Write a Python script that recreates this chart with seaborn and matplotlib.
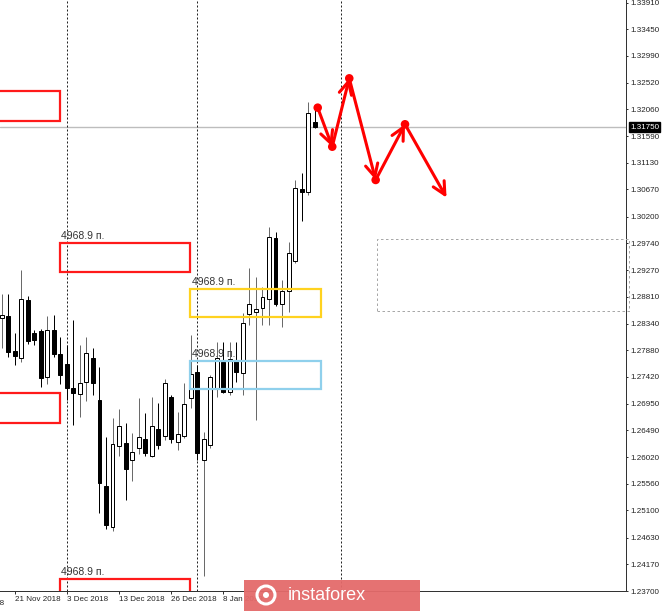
"""GBPUSD daily chart with 4968.9-point zones and forecast arrows (MT4 look)."""
import matplotlib
matplotlib.use("Agg")
import matplotlib.pyplot as plt
import matplotlib.patches as mpatches
import matplotlib.transforms as mtransforms
import pandas as pd
import seaborn as sns

# --- candles (daily, index 0 = first visible bar) ---
candle_open = [1.28441, 1.28475, 1.27868, 1.27747, 1.28753, 1.28180, 1.28215, 1.27417,
               1.28233, 1.27816, 1.27643, 1.27227, 1.27123, 1.27331, 1.27747, 1.27018,
               1.25527, 1.24816, 1.26221, 1.26273, 1.25978, 1.26186, 1.26342, 1.26047,
               1.26515, 1.26394, 1.27070, 1.26290, 1.26394, 1.27053, 1.27504, 1.25978,
               1.26238, 1.27209, 1.27678, 1.27157, 1.27712, 1.27487, 1.28510, 1.28545,
               1.28614, 1.28770, 1.29828, 1.28683, 1.28909, 1.29429, 1.30678, 1.30626,
               1.31840]
candle_high = [1.28857, 1.28857, 1.28180, 1.29273, 1.28822, 1.28233, 1.28250, 1.28475,
               1.28493, 1.28111, 1.27972, 1.28406, 1.27972, 1.28111, 1.27920, 1.27591,
               1.26377, 1.26706, 1.26862, 1.26620, 1.26446, 1.27053, 1.26793, 1.27070,
               1.26966, 1.27383, 1.27105, 1.26810, 1.27313, 1.28146, 1.27625, 1.26463,
               1.27452, 1.28024, 1.28024, 1.28024, 1.28024, 1.28527, 1.29308, 1.29152,
               1.28978, 1.30019, 1.29932, 1.29100, 1.29759, 1.30834, 1.30956, 1.32187,
               1.32118]
candle_low = [1.27920, 1.27764, 1.27625, 1.27678, 1.27990, 1.27972, 1.27244, 1.27296,
              1.27764, 1.27296, 1.27018, 1.26585, 1.26724, 1.27001, 1.27105, 1.25059,
              1.24781, 1.24746, 1.26047, 1.25284, 1.25614, 1.26082, 1.26047, 1.26030,
              1.26169, 1.26325, 1.26273, 1.26151, 1.26359, 1.26880, 1.25978, 1.23966,
              1.26186, 1.27070, 1.27140, 1.27105, 1.27331, 1.27105, 1.28319, 1.26672,
              1.28319, 1.28319, 1.28649, 1.28285, 1.28545, 1.29395, 1.30123, 1.30574,
              1.31740]
candle_close = [1.28493, 1.27851, 1.27782, 1.28770, 1.28042, 1.28059, 1.27400, 1.28233,
                1.27816, 1.27452, 1.27227, 1.27140, 1.27313, 1.27834, 1.27313, 1.25579,
                1.24850, 1.26255, 1.26568, 1.25822, 1.26117, 1.26377, 1.26099, 1.26568,
                1.26238, 1.27313, 1.26342, 1.26429, 1.26949, 1.27469, 1.26099, 1.26342,
                1.27417, 1.27747, 1.27157, 1.27729, 1.27504, 1.28354, 1.28683, 1.28597,
                1.28805, 1.29846, 1.28683, 1.28909, 1.29568, 1.30695, 1.30626, 1.31996,
                1.31750]

current_price = 1.31750
price_ticks = [1.33910, 1.33450, 1.32990, 1.32520, 1.32060, 1.31590, 1.31130, 1.30670,
               1.30200, 1.29740, 1.29270, 1.28810, 1.28340, 1.27880, 1.27420, 1.26950,
               1.26490, 1.26020, 1.25560, 1.25100, 1.24630, 1.24170, 1.23700]
date_pos = [-6, 2, 10, 18, 26, 34]
date_labels = ["9 Nov 2018", "21 Nov 2018", "3 Dec 2018", "13 Dec 2018", "26 Dec 2018", "8 Jan 2019"]
month_separators = [10, 30, 52]

# zones: (x0, x1, price_low, price_high, colour, label)
zone_x0 = [-6, 8.95, -6, 8.95, 28.95, 28.95]
zone_x1 = [8.95, 28.95, 8.95, 28.95, 48.95, 48.95]
zone_lo = [1.31857, 1.29238, 1.26620, 1.23000, 1.28458, 1.27209]
zone_hi = [1.32378, 1.29741, 1.27140, 1.23914, 1.28944, 1.27695]
zone_color = ["#ff1a1a", "#ff1a1a", "#ff1a1a", "#ff1a1a", "#ffd21f", "#8fd0ec"]
zone_label = [None, "4968.9 п.", None, "4968.9 п.", "4968.9 п.", "4968.9 п."]

target_box = (57.56, 96.2, 1.28562, 1.29811)

# forecast path (bar index, price)
forecast_x = [48.47, 50.70, 53.31, 57.36, 61.86, 68.23]
forecast_y = [1.32088, 1.31411, 1.32597, 1.30834, 1.31800, 1.30527]

PX = 0.72  # one pixel in points

sns.set_theme(style="white")
plt.rcParams["font.family"] = ["Liberation Sans", "DejaVu Sans"]

fig = plt.figure(figsize=(6.65, 6.11), dpi=100)
ax = fig.add_axes([0, 19.7 / 611, 625.7 / 665, 591.3 / 611])
ax.set_facecolor("white")

df = pd.DataFrame({"o": candle_open, "h": candle_high, "l": candle_low, "c": candle_close})
df["i"] = range(len(df))
bull = df["c"] >= df["o"]

# wicks
ax.vlines(df.loc[bull, "i"], df.loc[bull, "l"], df.loc[bull, "h"], color="#6a6a6a", lw=PX, zorder=2)
ax.vlines(df.loc[~bull, "i"], df.loc[~bull, "l"], df.loc[~bull, "h"], color="black", lw=PX, zorder=2)
# bodies
body_lo = df[["o", "c"]].min(axis=1)
body_h = (df["c"] - df["o"]).abs().clip(lower=0.00012)
ax.bar(df["i"], body_h, bottom=body_lo, width=0.6,
       color=["white" if b else "black" for b in bull], edgecolor="black", lw=PX, zorder=3)

# current price line
ax.axhline(current_price, color="#bdbdbd", lw=1.0, zorder=1)

# month separators
for xs in month_separators:
    ax.axvline(xs, color="#222222", lw=PX, ls=(0, (2, 2)), zorder=1)

# zones
for x0, x1, lo, hi, col, lab in zip(zone_x0, zone_x1, zone_lo, zone_hi, zone_color, zone_label):
    ax.add_patch(mpatches.Rectangle((x0, lo), x1 - x0, hi - lo, fill=False,
                                    edgecolor=col, lw=1.6, zorder=4))
    if lab:
        ax.text(x0 + 0.2, hi + 0.0007, lab, fontsize=7.5, color="#333333",
                ha="left", va="baseline", zorder=5)

tx0, tx1, tlo, thi = target_box
ax.add_patch(mpatches.Rectangle((tx0, tlo), tx1 - tx0, thi - tlo, fill=False,
                                edgecolor="#a8a8a8", lw=PX, ls=(0, (2.5, 2.5)),
                                clip_on=False, zorder=4))

# forecast arrows
for k in range(len(forecast_x) - 1):
    ax.annotate("", xy=(forecast_x[k + 1], forecast_y[k + 1]),
                xytext=(forecast_x[k], forecast_y[k]),
                arrowprops=dict(arrowstyle="->,head_length=0.9,head_width=0.45",
                                color="#ff0000", lw=2.2, shrinkA=0, shrinkB=0,
                                mutation_scale=10),
                zorder=6)
sns.scatterplot(x=forecast_x[:-1], y=forecast_y[:-1], color="#ff0000", s=38,
                edgecolor="none", zorder=7, ax=ax, legend=False)

# axes
ax.set_xlim(-0.26, 95.71)
ax.set_ylim(1.23698, 1.33956)
for side in ["top", "left"]:
    ax.spines[side].set_visible(False)
for side in ["right", "bottom"]:
    ax.spines[side].set_color("#333333")
    ax.spines[side].set_linewidth(PX)

ax.yaxis.tick_right()
ax.set_yticks(price_ticks)
ax.set_yticklabels([f"{p:.5f}" for p in price_ticks])
ax.tick_params(axis="y", which="major", right=True, left=False, length=2 * PX, width=PX,
               pad=2.5 * PX, labelsize=5.8, colors="#333333", labelcolor="#222222")

ax.set_xticks(date_pos[1:])
ax.set_xticklabels(date_labels[1:])
ax.tick_params(axis="x", which="major", bottom=True, length=3 * PX, width=PX,
               pad=1.0, labelsize=5.8, colors="#333333", labelcolor="#222222")
for lbl in ax.get_xticklabels():
    lbl.set_ha("left")
# first date label starts off-canvas
xlab_tr = mtransforms.blended_transform_factory(ax.transData, ax.transAxes)
ax.text(date_pos[0], -0.0155, date_labels[0], transform=xlab_tr, fontsize=5.8,
        color="#222222", ha="left", va="top", clip_on=False)

# current price tag
ytr = mtransforms.blended_transform_factory(ax.transAxes, ax.transData)
ax.text(1.0069, current_price, f"{current_price:.5f}", transform=ytr, fontsize=5.8,
        color="white", ha="left", va="center", clip_on=False, zorder=10,
        bbox=dict(boxstyle="square,pad=0.15", fc="black", ec="black"))

# watermark
fig.add_artist(mpatches.Rectangle((244 / 665, 0), 176 / 665, 31 / 611,
                                  transform=fig.transFigure, fc="#e46a6a", ec="none",
                                  alpha=0.95, zorder=20))
fig.add_artist(mpatches.Ellipse((266 / 665, 16 / 611), 18 / 665, 18 / 611,
                                transform=fig.transFigure, fc="none", ec="white",
                                lw=2.2, zorder=21))
fig.add_artist(mpatches.Ellipse((266 / 665, 16 / 611), 6 / 665, 6 / 611,
                                transform=fig.transFigure, fc="white", ec="none",
                                zorder=21))
fig.text(288 / 665, 16 / 611, "instaforex", fontsize=13, color="white",
         ha="left", va="center", zorder=22)

fig.savefig("out.png", dpi=100, facecolor="white")
